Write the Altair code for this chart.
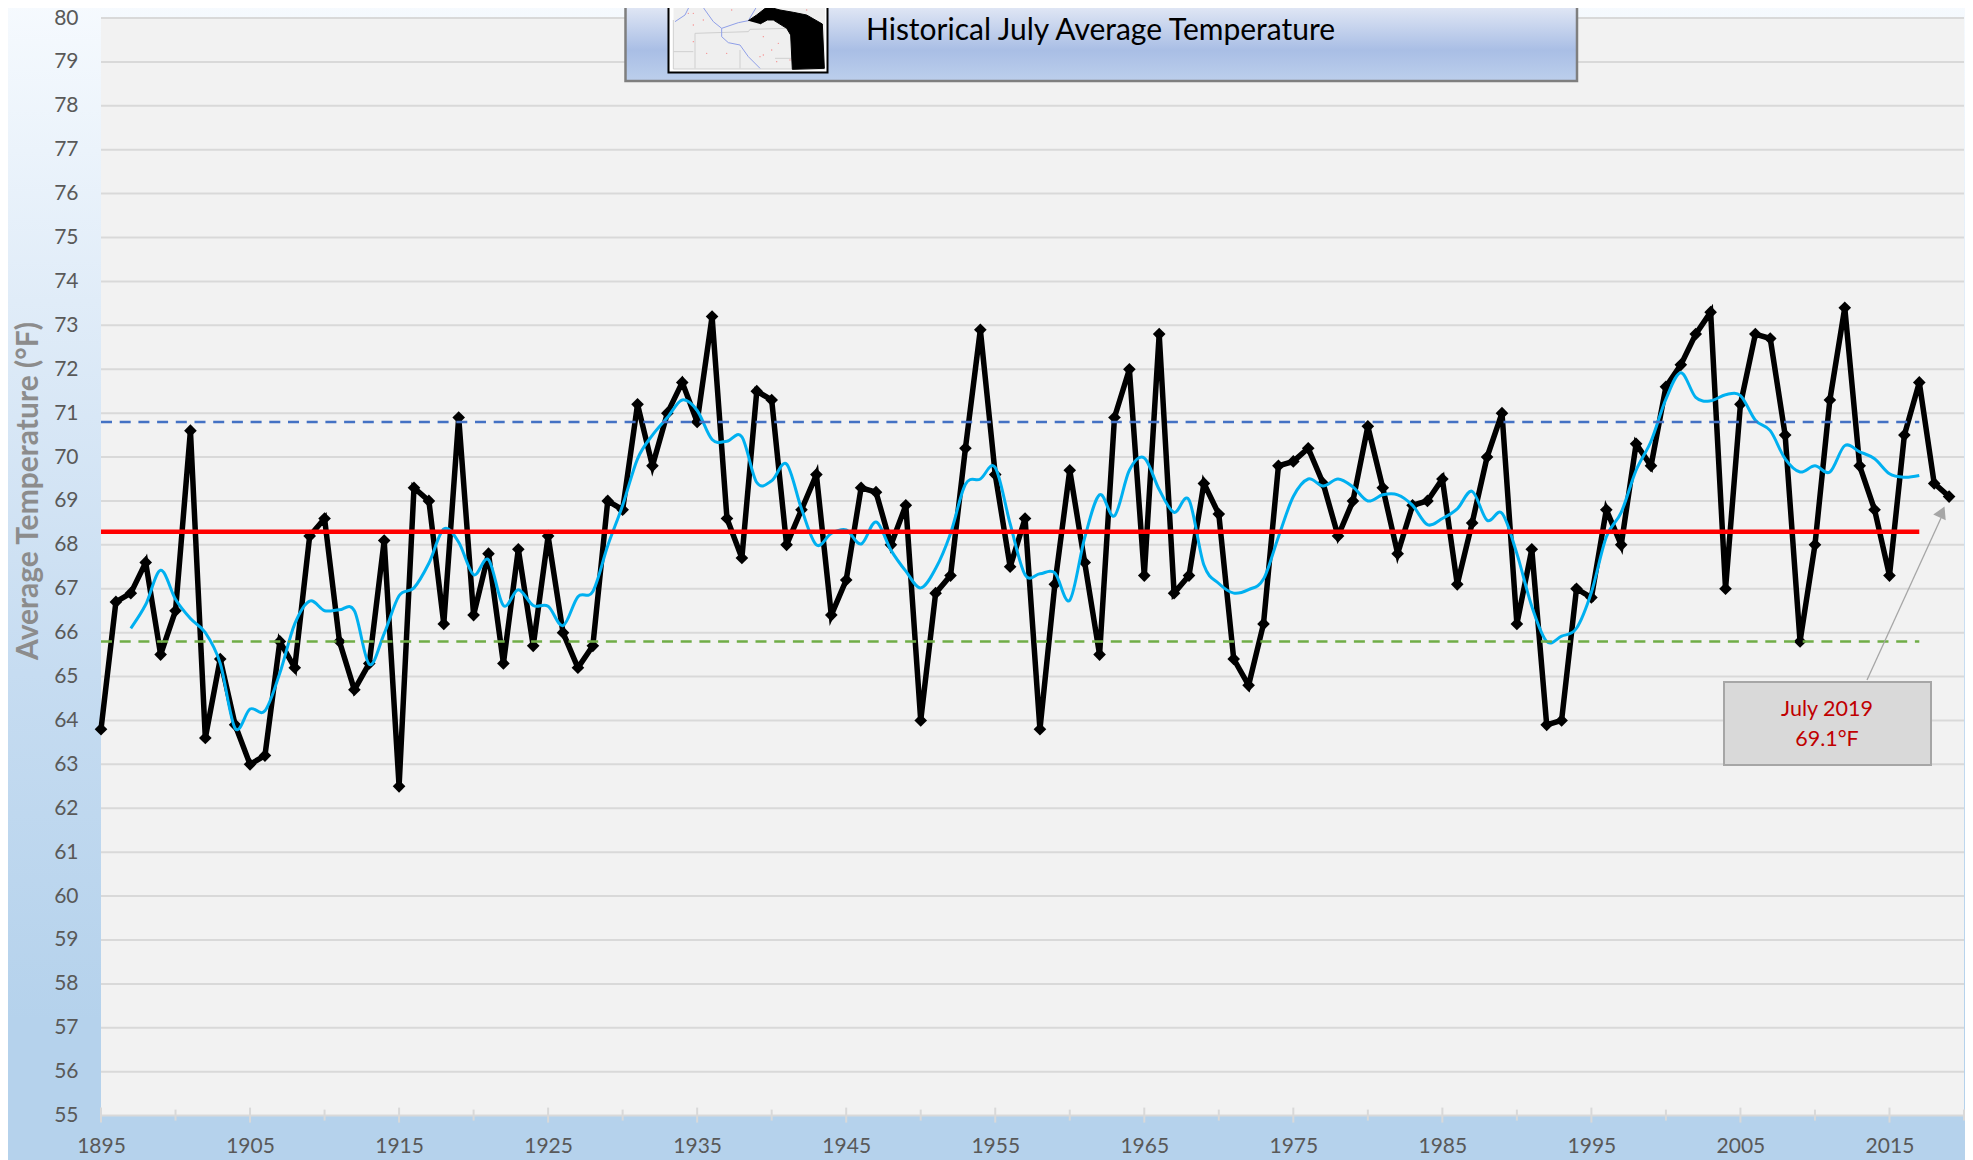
import altair as alt
import pandas as pd

YEARS = list(range(1895, 2020))
TEMPS = [63.8, 66.7, 66.9, 67.6, 65.5, 66.5, 70.6, 63.6, 65.4, 63.9,
         63.0, 63.2, 65.8, 65.2, 68.2, 68.6, 65.8, 64.7, 65.3, 68.1,
         62.5, 69.3, 69.0, 66.2, 70.9, 66.4, 67.8, 65.3, 67.9, 65.7,
         68.2, 66.0, 65.2, 65.7, 69.0, 68.8, 71.2, 69.8, 71.0, 71.7,
         70.8, 73.2, 68.6, 67.7, 71.5, 71.3, 68.0, 68.8, 69.6, 66.4,
         67.2, 69.3, 69.2, 68.0, 68.9, 64.0, 66.9, 67.3, 70.2, 72.9,
         69.6, 67.5, 68.6, 63.8, 67.1, 69.7, 67.6, 65.5, 70.9, 72.0,
         67.3, 72.8, 66.9, 67.3, 69.4, 68.7, 65.4, 64.8, 66.2, 69.8,
         69.9, 70.2, 69.4, 68.2, 69.0, 70.7, 69.3, 67.8, 68.9, 69.0,
         69.5, 67.1, 68.5, 70.0, 71.0, 66.2, 67.9, 63.9, 64.0, 67.0,
         66.8, 68.8, 68.0, 70.3, 69.8, 71.6, 72.1, 72.8, 73.3, 67.0,
         71.2, 72.8, 72.7, 70.5, 65.8, 68.0, 71.3, 73.4, 69.8, 68.8,
         67.3, 70.5, 71.7, 69.4, 69.1]

SMOOTH_YEARS = list(range(1897, 2018))
SMOOTH = [66.10, 66.64, 67.42, 66.76, 66.32, 66.00, 65.30, 63.82, 64.26, 64.22,
          65.08, 66.20, 66.72, 66.50, 66.52, 66.50, 65.28, 65.98, 66.84, 67.02,
          67.58, 68.36, 68.06, 67.32, 67.66, 66.62, 66.98, 66.62, 66.60, 66.16,
          66.82, 66.94, 67.98, 68.90, 69.96, 70.50, 70.90, 71.30, 71.06, 70.40,
          70.36, 70.46, 69.42, 69.46, 69.84, 68.82, 68.00, 68.26, 68.34, 68.02,
          68.52, 67.88, 67.40, 67.02, 67.46, 68.26, 69.38, 69.50, 69.76, 68.48,
          67.32, 67.34, 67.36, 66.74, 68.16, 69.14, 68.66, 69.70, 69.98, 69.26,
          68.74, 69.02, 67.54, 67.12, 66.90, 66.98, 67.22, 68.18, 69.10, 69.50,
          69.34, 69.50, 69.32, 69.00, 69.14, 69.14, 68.90, 68.46, 68.60, 68.82,
          69.22, 68.56, 68.72, 67.80, 66.60, 65.80, 65.92, 66.10, 66.92, 68.18,
          68.74, 69.70, 70.36, 71.32, 71.92, 71.36, 71.28, 71.42, 71.40, 70.84,
          70.60, 69.96, 69.66, 69.80, 69.66, 70.26, 70.12, 69.96, 69.62, 69.54,
          69.58]

REF_YEARS = [1895, 2017]
MEAN_T = 68.3
HIGH_T = 70.8
LOW_T = 65.8
GRID = list(range(55, 81))
MAJOR_TICKS = list(range(1895, 2021, 10))
MINOR_TICKS = list(range(1900, 2021, 10))
LABEL_YEARS = list(range(1895, 2016, 10))

# Thumbnail map outlines, in the thumbnail's own units
LAKE = [(265, 62), (290, 45), (322, 20), (360, 30), (400, 37), (440, 45), (487, 72), (493, 205),
        (397, 208), (392, 105), (380, 85), (340, 60), (322, 60), (300, 72)]
RIVERS = [[(45, 65), (75, 45), (90, 15), (100, 0)],
          [(115, 0), (135, 30), (160, 65), (185, 85), (235, 68), (265, 62), (290, 20), (280, 0)],
          [(185, 85), (185, 110), (205, 128), (240, 135), (265, 170), (300, 205)]]
BORDERS = [[(40, 155), (100, 155)], [(105, 100), (265, 95), (270, 88), (385, 85)],
           [(105, 100), (105, 205)], [(240, 150), (240, 205)], [(345, 175), (395, 175)],
           [(40, 60), (40, 207), (495, 207)]]
TOWNS = [(100, 40), (130, 60), (175, 18), (215, 30), (85, 40), (100, 75), (100, 125), (140, 160),
         (200, 160), (300, 170), (335, 150), (355, 130), (310, 110), (390, 180), (440, 30),
         (425, 3), (155, 5), (80, 18), (190, 15), (310, 165), (350, 185)]

W, H = 1863, 1097.6
X0, Y0 = 101, 18          # page position of the plot's top-left corner
SVG_H = 1152

xscale = alt.Scale(domain=[1895, 2020], nice=False, zero=False)
yscale = alt.Scale(domain=[55, 80], nice=False, zero=False)


def yr(px):
    return 1895 + (px - X0) / W * 125


def tp(py):
    return 55 + (Y0 + H - py) / H * 25


def vx(px):
    return alt.value(px - X0)


def vy(py):
    return alt.value(py - Y0)


one = pd.DataFrame({"a": [0]})
FONT = "Lato"

X_AXIS = alt.Axis(values=LABEL_YEARS, format="d", ticks=False, domain=False, grid=False,
                  labelFont=FONT, labelFontSize=21, labelColor="#595959", labelPadding=20,
                  labelFlush=False, labelOverlap=False, title=None, zindex=5)
Y_AXIS = alt.Axis(values=GRID, ticks=False, domain=False, grid=False,
                  labelFont=FONT, labelFontSize=21, labelColor="#595959", labelPadding=23,
                  labelOverlap=False, title="Average Temperature (°F)", titleFont=FONT,
                  titleFontSize=30, titleFontWeight="bold", titleColor="#8c8c8c", titleAngle=270,
                  titleX=28 - X0, titleY=490.5 - Y0, titleAlign="center", titleBaseline="middle",
                  zindex=5)


def box(x1, x2, y1, y2, **kw):
    return alt.Chart(one).mark_rect(**kw).encode(x=vx(x1), x2=vx(x2), y=vy(y1), y2=vy(y2))


def X(field="x"):
    return alt.X(f"{field}:Q", scale=xscale, axis=X_AXIS)


def Y(field="y"):
    return alt.Y(f"{field}:Q", scale=yscale, axis=Y_AXIS)


page_bg = box(0, 1975, 0, 1160, fill=alt.LinearGradient(
    gradient="linear", x1=0, x2=0, y1=0, y2=1,
    stops=[alt.GradientStop(color="#f6fafe", offset=0),
           alt.GradientStop(color="#e0ecf8", offset=0.26),
           alt.GradientStop(color="#c6dcf1", offset=0.58),
           alt.GradientStop(color="#b5d2ec", offset=0.88),
           alt.GradientStop(color="#b5d2ec", offset=1)]))
plot_bg = box(X0, X0 + W, Y0, Y0 + H, fill="#f2f2f2")

grid = alt.Chart(pd.DataFrame({"y": GRID})).mark_rule(color="#d9d9d9", strokeWidth=2).encode(
    y=Y(), x=alt.value(0), x2=alt.value(W))
major = alt.Chart(pd.DataFrame({"x": MAJOR_TICKS})).mark_rule(color="#d9d9d9", strokeWidth=2).encode(
    x=X(), y=alt.value(H - 8), y2=alt.value(H + 7))
minor = alt.Chart(pd.DataFrame({"x": MINOR_TICKS})).mark_rule(color="#d9d9d9", strokeWidth=2).encode(
    x=X(), y=alt.value(H - 6), y2=alt.value(H + 5))

series = pd.DataFrame({"year": YEARS, "temp": TEMPS})
black_line = alt.Chart(series).mark_line(color="#000000", strokeWidth=5.5, strokeJoin="miter").encode(
    x=X("year"), y=Y("temp"))
black_pts = alt.Chart(series).mark_point(shape="diamond", filled=True, size=160, color="#000000", opacity=1).encode(
    x=X("year"), y=Y("temp"))
smooth = alt.Chart(pd.DataFrame({"year": SMOOTH_YEARS, "temp": SMOOTH})).mark_line(
    color="#00b0f0", strokeWidth=3, interpolate="cardinal", tension=0).encode(x=X("year"), y=Y("temp"))


def ref_line(value, color, width, dash=None):
    df = pd.DataFrame({"year": REF_YEARS, "temp": [value, value]})
    kw = {"strokeDash": dash} if dash else {}
    return alt.Chart(df).mark_line(color=color, strokeWidth=width, **kw).encode(x=X("year"), y=Y("temp"))


high = ref_line(HIGH_T, "#4472c4", 2.5, [11, 7.7])
low = ref_line(LOW_T, "#70ad47", 2.5, [11, 7.7])
mean = ref_line(MEAN_T, "#ff0000", 4.5)

# Header panel
header = box(625.5, 1577, 0, 81, stroke="#7f7f7f", strokeWidth=2.5, fill=alt.LinearGradient(
    gradient="linear", x1=0, x2=0, y1=0, y2=1,
    stops=[alt.GradientStop(color="#e9edf7", offset=0),
           alt.GradientStop(color="#a9bee5", offset=0.62),
           alt.GradientStop(color="#bccfec", offset=1)]))
subtitle = alt.Chart(one).mark_text(text="Historical July Average Temperature", font=FONT, fontSize=30,
                                    color="#000000", align="left", baseline="alphabetic").encode(
    x=vx(866), y=vy(40))

# Thumbnail map
thumb_frame = box(668.5, 827.5, 0, 72.5, fill="#ffffff", stroke="#000000", strokeWidth=2)
thumb_land = box(673.5, 825, 0, 69, fill="#efefef")


def thumb_df(paths):
    rows = []
    for k, path in enumerate(paths):
        for i, (a, b) in enumerate(path):
            rows.append({"x": yr(660 + a / 3), "y": tp(b / 3), "k": k, "i": i})
    return pd.DataFrame(rows)


thumb_borders = alt.Chart(thumb_df(BORDERS)).mark_line(color="#cfcfcf", strokeWidth=1).encode(
    x=X(), y=Y(), detail="k:N", order="i:Q")
thumb_rivers = alt.Chart(thumb_df(RIVERS)).mark_line(color="#8f9fe8", strokeWidth=1).encode(
    x=X(), y=Y(), detail="k:N", order="i:Q")
thumb_lake = alt.Chart(thumb_df([LAKE])).mark_line(color="#000000", fill="#000000", strokeWidth=1).encode(
    x=X(), y=Y(), order="i:Q")
thumb_towns = alt.Chart(thumb_df([TOWNS])).mark_point(filled=True, size=2, color="#f79090", opacity=1).encode(
    x=X(), y=Y())

# Annotation
note_box = box(1724, 1931, 682, 765, fill="#d9d9d9", stroke="#a6a6a6", strokeWidth=2)
note_1 = alt.Chart(one).mark_text(text="July 2019", font=FONT, fontSize=21.5, color="#c00000",
                                  align="center", baseline="middle").encode(x=vx(1827), y=vy(710))
note_2 = alt.Chart(one).mark_text(text="69.1°F", font=FONT, fontSize=21.5, color="#c00000",
                                  align="center", baseline="middle").encode(x=vx(1827), y=vy(740))
arrow = alt.Chart(one).mark_rule(color="#a6a6a6", strokeWidth=1.3).encode(
    x=vx(1867), x2=vx(1941), y=vy(680), y2=vy(518))
arrow_head = alt.Chart(one).mark_point(shape="triangle-up", filled=True, size=190, angle=25,
                                       color="#a6a6a6", opacity=1).encode(x=vx(1942), y=vy(512))

chart = alt.layer(
    page_bg, plot_bg, grid, major, minor, black_line, black_pts, smooth, low, high, mean,
    header, thumb_frame, thumb_land, thumb_borders, thumb_rivers, thumb_lake, thumb_towns, subtitle,
    arrow, arrow_head, note_box, note_1, note_2,
).properties(
    width=W, height=H, autosize=alt.AutoSizeParams(type="none"),
    padding={"left": X0 - 8, "top": Y0 - 8, "right": 1, "bottom": SVG_H - (Y0 - 8) - H},
    background="#cfe1f3",
).configure_view(strokeWidth=0)

chart.save("out.html", embed_options={"renderer": "svg", "actions": False})
